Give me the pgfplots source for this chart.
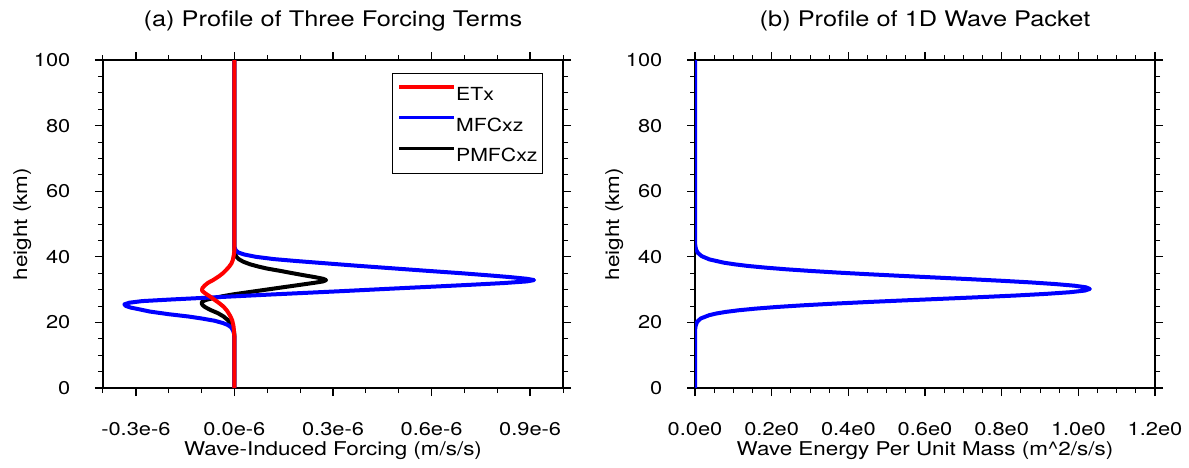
\documentclass[border=0pt]{standalone}
\usepackage{fontspec}
\setmainfont{TeX Gyre Heros}[FakeStretch=1.18]
\usepackage{pgfplots}
\pgfplotsset{compat=1.18}
\usepackage{pgfplotstable}

% ETx (x in 1e-6 m/s/s, z in km)
\pgfplotstableread{
x z
0 0
0 15
-0.001 17
-0.003 19
-0.007 20.7
-0.013 22
-0.022 23.5
-0.033 24.8
-0.048 26
-0.062 27
-0.073 27.8
-0.088 28.8
-0.097 29.5
-0.099 29.9
-0.097 30.5
-0.090 31.3
-0.080 32.1
-0.065 32.9
-0.048 34
-0.035 35
-0.025 36
-0.016 37
-0.009 38
-0.005 39
-0.002 40.5
0 42
0 100
}\etx

% MFCxz
\pgfplotstableread{
x z
0 0
0 15
-0.001 16.5
-0.004 17.5
-0.010 18.5
-0.020 19.2
-0.035 19.8
-0.060 20.5
-0.100 21.2
-0.140 21.8
-0.200 22.5
-0.257 23.3
-0.290 24.0
-0.315 24.5
-0.330 25.0
-0.335 25.5
-0.320 26.0
-0.280 26.5
-0.190 27.0
-0.090 27.5
0.010 28.0
0.110 28.5
0.215 29.0
0.320 29.5
0.420 30.0
0.520 30.5
0.625 31.0
0.725 31.5
0.820 32.0
0.890 32.5
0.912 32.9
0.890 33.3
0.840 33.8
0.780 34.3
0.690 35.0
0.590 35.7
0.480 36.5
0.370 37.3
0.280 38.0
0.190 38.7
0.120 39.3
0.065 40.0
0.030 40.7
0.012 41.3
0.004 42.0
0 43
0 100
}\mfc

% PMFCxz
\pgfplotstableread{
x z
0 0
0 16
-0.001 17
-0.004 18.3
-0.010 19.5
-0.020 20.7
-0.033 21.8
-0.050 22.8
-0.073 23.8
-0.090 24.7
-0.097 25.3
-0.100 25.9
-0.097 26.4
-0.085 26.9
-0.065 27.4
-0.040 27.9
-0.018 28.3
0 28.6
0.035 29.1
0.070 29.6
0.105 30.1
0.140 30.6
0.175 31.1
0.210 31.6
0.245 32.1
0.270 32.5
0.279 32.9
0.270 33.3
0.245 33.8
0.210 34.4
0.177 35.0
0.140 35.7
0.100 36.4
0.074 37.0
0.048 37.7
0.027 38.5
0.013 39.3
0.006 40.0
0.002 41.0
0 42
0 100
}\pmfc

% Wave energy per unit mass
\pgfplotstableread{
x z
0 0
0 17
0.0006 18
0.0018 19
0.0056 20.2
0.015 21.2
0.037 22.2
0.055 22.7
0.080 23.2
0.114 23.7
0.158 24.2
0.213 24.7
0.280 25.2
0.359 25.7
0.448 26.2
0.544 26.7
0.645 27.2
0.744 27.7
0.837 28.2
0.916 28.7
0.978 29.2
1.017 29.7
1.030 30.2
1.020 30.7
0.989 31.2
0.939 31.7
0.875 32.2
0.798 32.7
0.714 33.2
0.625 33.7
0.536 34.2
0.450 34.7
0.371 35.2
0.300 35.7
0.237 36.2
0.184 36.7
0.139 37.2
0.104 37.7
0.0756 38.2
0.0378 39.2
0.0174 40.2
0.0074 41.2
0.0029 42.2
0.001 43.2
0.0003 44.2
0 45.2
0 100
}\energy

\pgfplotsset{
  nclax/.style={
    scale only axis, width=460pt, height=328pt,
    ymin=0, ymax=100,
    ytick={0,20,40,60,80,100},
    yticklabels={0,20,40,60,80,100},
    minor y tick num=3,
    tick align=outside,
    major tick length=8pt, minor tick length=5pt,
    every tick/.style={black, line width=1.3pt},
    every minor tick/.append style={line width=1pt},
    axis line style={line width=1.5pt},
    ticklabel style={font=\fontsize{18.5}{18.5}\selectfont, inner sep=0pt},
    xticklabel style={anchor=base, yshift=-39.5pt},
    yticklabel style={anchor=east, xshift=-24.5pt},
    ylabel={height (km)},
    xlabel style={at={(axis description cs:0.5,-0.2043)}, anchor=base, font=\fontsize{19}{19}\selectfont},
    ylabel style={at={(axis description cs:-0.1652,0.5)}, anchor=base, font=\fontsize{19}{19}\selectfont},
    title style={at={(axis description cs:0.5,1.0832)}, anchor=base, font=\fontsize{21.5}{21.5}\selectfont},
  },
}

\begin{document}
\begin{tikzpicture}
\useasboundingbox (-103pt,-79pt) rectangle (1086pt,388pt);
\begin{axis}[nclax, at={(0pt,0pt)}, anchor=south west,
  xmin=-0.4, xmax=1.0,
  xtick={-0.3,0,0.3,0.6,0.9},
  xticklabels={-0.3e-6,0.0e-6,0.3e-6,0.6e-6,0.9e-6},
  minor xtick={-0.4,-0.2,-0.1,0.1,0.2,0.4,0.5,0.7,0.8,1.0},
  xlabel={Wave-Induced Forcing (m/s/s)},
  title={(a) Profile of Three Forcing Terms},
  legend style={at={(axis description cs:0.9565,0.9604)}, anchor=north east,
    draw=black, line width=0.9pt, fill=white,
    font=\fontsize{18}{18}\selectfont,
    inner xsep=5pt, inner ysep=12pt, row sep=15.5pt,
    nodes={inner sep=0pt, text height=13.5pt, text depth=0pt}},
  legend cell align=left,
  legend image code/.code={\draw[#1] (0pt,6.7pt) -- (55pt,6.7pt);},
]
\addlegendimage{red, line width=3.3pt}\addlegendentry{ETx}
\addlegendimage{blue, line width=3.3pt}\addlegendentry{MFCxz}
\addlegendimage{black, line width=3.3pt}\addlegendentry{PMFCxz}
\addplot[black, line width=4pt, line join=round, forget plot] table[x=x,y=z] {\pmfc};
\addplot[blue, line width=4pt, line join=round, forget plot] table[x=x,y=z] {\mfc};
\addplot[red, line width=4pt, line join=round, forget plot] table[x=x,y=z] {\etx};
\end{axis}
\begin{axis}[nclax, at={(592pt,0pt)}, anchor=south west,
  xmin=0, xmax=1.2,
  xtick={0,0.2,0.4,0.6,0.8,1.0,1.2},
  xticklabels={0.0e0,0.2e0,0.4e0,0.6e0,0.8e0,1.0e0,1.2e0},
  minor x tick num=3,
  xlabel={Wave Energy Per Unit Mass (m\^{}2/s/s)},
  title={(b) Profile of 1D Wave Packet},
]
\addplot[blue, line width=4pt, line join=round] table[x=x,y=z] {\energy};
\end{axis}
\end{tikzpicture}
\end{document}
